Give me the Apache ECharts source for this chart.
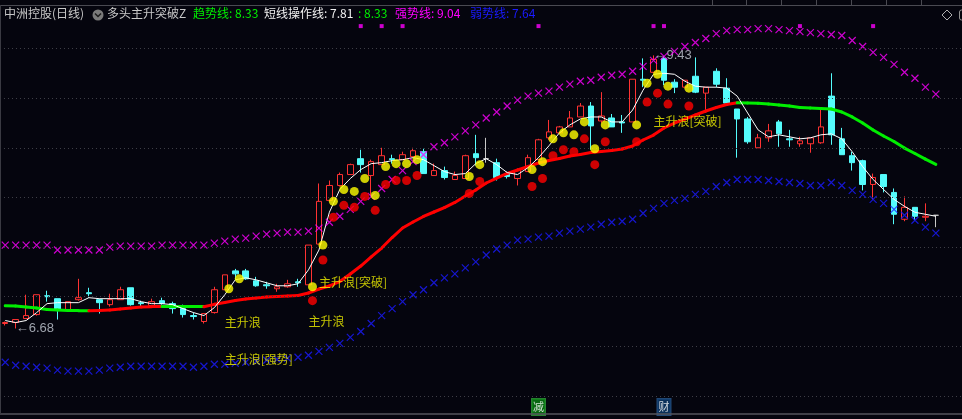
<!DOCTYPE html>
<html><head><meta charset="utf-8">
<script src="https://cdn.jsdelivr.net/npm/echarts/dist/echarts.min.js"></script>
<style>html,body{margin:0;padding:0;background:#05050e;overflow:hidden}#c{width:962px;height:419px}</style>
</head><body><div id="c"></div>
<script>
// ---- data (price units) ----
const categories = Array.from({length: 92}, (_, i) => (i < 90 ? 'D' + (i + 1) : ''));
const open = [6.73,6.74,6.78,6.82,7.01,6.98,6.86,6.97,7.04,6.97, 6.92,6.97,7.09,6.94,6.91,6.96,6.93,6.88,6.81,6.75, 6.84,7.07,7.26,7.26,7.16,7.12,7.08,7.10,7.15,7.12, 7.53,7.97,8.12,8.23,8.39,8.22,8.33,8.39,8.38,8.41, 8.46,8.22,8.27,8.18,8.19,8.44,8.39,8.35,8.24,8.19, 8.26,8.38,8.60,8.65,8.71,8.81,8.92,8.77,8.80,8.76, 8.76,9.19,9.26,9.40,9.16,9.11,9.22,9.05,9.27,9.10, 8.89,8.79,8.50,8.60,8.76,8.59,8.54,8.54,8.55,9.02, 8.59,8.42,8.37,8.13,8.23,8.05,7.78,7.90,7.80,7.82];
const close = [6.74,6.77,6.81,7.02,7.00,6.87,6.95,6.99,7.03,6.94, 6.97,7.07,6.92,6.93,6.95,6.93,6.88,6.82,6.80,6.83, 7.07,7.22,7.23,7.18,7.11,7.11,7.10,7.13,7.14,7.52, 7.96,8.12,8.23,8.33,8.33,8.36,8.42,8.38,8.43,8.47, 8.24,8.27,8.20,8.22,8.42,8.40,8.39,8.20,8.21,8.27, 8.40,8.58,8.66,8.71,8.80,8.92,8.72,8.82,8.71,8.75, 9.19,9.18,9.39,9.18,9.11,9.18,9.06,9.11,9.14,8.95, 8.79,8.56,8.60,8.67,8.64,8.58,8.57,8.60,8.71,8.63, 8.43,8.35,8.13,8.20,8.11,7.83,7.90,7.81,7.81,7.82];
const high = [6.75,6.77,7.02,7.02,7.06,6.98,6.95,7.18,7.09,6.98, 7.03,7.10,7.09,6.96,6.98,6.99,6.95,6.92,6.84,6.83, 7.10,7.22,7.28,7.28,7.20,7.15,7.13,7.17,7.18,7.52, 8.14,8.17,8.25,8.34,8.48,8.38,8.50,8.43,8.46,8.50, 8.49,8.34,8.31,8.26,8.43,8.63,8.60,8.39,8.26,8.29, 8.43,8.59,8.78,8.72,8.87,8.95,8.96,9.06,8.84,8.83, 9.19,9.40,9.43,9.42,9.19,9.18,9.41,9.11,9.30,9.20, 8.89,8.81,8.64,8.74,8.78,8.68,8.61,8.60,8.90,9.25, 8.70,8.46,8.38,8.24,8.23,8.09,8.01,7.90,7.94,7.82];
const low = [6.71,6.68,6.78,6.81,6.95,6.77,6.85,6.96,6.99,6.83, 6.90,6.97,6.91,6.89,6.90,6.92,6.83,6.79,6.77,6.73, 6.83,7.07,7.17,7.17,7.10,7.08,7.05,7.09,7.10,7.12, 7.53,7.97,8.11,8.23,8.25,8.02,8.33,8.34,8.38,8.41, 8.24,8.22,8.18,8.18,8.19,8.32,8.35,8.17,8.19,8.12, 8.26,8.38,8.58,8.65,8.71,8.81,8.48,8.75,8.71,8.65, 8.76,9.11,9.26,9.13,9.05,9.11,9.05,8.85,9.11,8.95, 8.40,8.54,8.50,8.56,8.51,8.51,8.51,8.45,8.54,8.53, 8.43,8.27,8.07,7.98,8.05,7.73,7.76,7.77,7.76,7.70];
// 短线操作线 (white)
const shortLine = [6.76,6.74,6.76,6.84,6.93,6.94,6.94,6.94,6.99,6.98, 6.98,6.98,6.98,6.95,6.93,6.93,6.92,6.88,6.84,6.81, 6.89,7.02,7.17,7.19,7.17,7.14,7.11,7.11,7.13,7.27, 7.47,7.85,8.08,8.19,8.28,8.34,8.35,8.37,8.38,8.40, 8.38,8.32,8.26,8.23,8.24,8.34,8.39,8.33,8.25,8.23, 8.30,8.40,8.52,8.65,8.73,8.79,8.81,8.81,8.76,8.76, 8.88,9.08,9.24,9.25,9.24,9.17,9.12,9.11,9.11,9.10, 9.02,8.85,8.68,8.61,8.63,8.61,8.59,8.60,8.63,8.64, 8.59,8.46,8.31,8.18,8.08,7.98,7.91,7.85,7.83,7.81];
// 趋势线 (red rising / green otherwise)
const trendLine = [6.909,6.906,6.896,6.886,6.871,6.866,6.861,6.859,6.858,6.861, 6.866,6.876,6.886,6.896,6.899,6.903,6.902,6.901,6.900,6.899, 6.923,6.942,6.962,6.977,6.987,6.997,7.002,7.007,7.012,7.037, 7.077,7.108,7.153,7.229,7.309,7.400,7.490,7.596,7.692,7.752, 7.808,7.853,7.898,7.949,8.014,8.074,8.145,8.195,8.241,8.276, 8.311,8.346,8.372,8.392,8.417,8.432,8.452,8.462,8.472,8.487, 8.518,8.578,8.628,8.699,8.749,8.789,8.830,8.870,8.905,8.935, 8.954,8.951,8.948,8.940,8.930,8.920,8.905,8.900,8.895,8.890, 8.860,8.810,8.749,8.679,8.618,8.563,8.497,8.442,8.385,8.332];
// 强势线 (magenta x)
const strongLine = [7.52,7.52,7.52,7.52,7.52,7.47,7.47,7.47,7.47,7.47, 7.50,7.51,7.51,7.51,7.51,7.52,7.52,7.52,7.52,7.52, 7.54,7.56,7.58,7.59,7.61,7.63,7.64,7.65,7.65,7.66, 7.69,7.75,7.81,7.88,7.96,8.01,8.09,8.18,8.27,8.36, 8.43,8.51,8.55,8.61,8.67,8.73,8.80,8.86,8.92,8.98, 9.02,9.05,9.07,9.11,9.14,9.17,9.18,9.21,9.23,9.24, 9.27,9.32,9.38,9.42,9.47,9.52,9.56,9.60,9.65,9.68, 9.69,9.69,9.70,9.70,9.69,9.68,9.67,9.66,9.65,9.64, 9.63,9.58,9.52,9.46,9.41,9.34,9.26,9.20,9.11,9.04];
// 弱势线 (blue x)
const weakLine = [6.34,6.31,6.30,6.29,6.28,6.26,6.25,6.25,6.25,6.26, 6.28,6.29,6.30,6.30,6.30,6.30,6.30,6.30,6.29,6.30, 6.32,6.32,6.33,6.34,6.35,6.36,6.37,6.38,6.39,6.41, 6.45,6.49,6.53,6.59,6.65,6.73,6.81,6.88,6.95,7.02, 7.07,7.14,7.19,7.23,7.29,7.35,7.42,7.48,7.52,7.57, 7.58,7.60,7.61,7.64,7.66,7.68,7.70,7.73,7.75,7.76, 7.78,7.84,7.89,7.94,7.97,7.99,8.03,8.06,8.11,8.15, 8.18,8.18,8.18,8.17,8.16,8.15,8.14,8.12,8.12,8.15, 8.12,8.07,8.03,7.98,7.94,7.88,7.82,7.77,7.70,7.64];
const yellowDots = [[21,7.08],[22,7.18],[29,7.10],[30,7.52],[31,7.96],[32,8.08],[33,8.06],[34,8.19],[35,8.02],[36,8.31],[37,8.34],[38,8.34],[39,8.38],[44,8.21],[45,8.33],[50,8.28],[51,8.36],[52,8.59],[53,8.65],[54,8.63],[55,8.76],[56,8.49],[57,8.73],[60,8.73],[61,9.15],[62,9.24],[63,9.12],[65,9.10]];
const redDots = [[29,6.96],[30,7.37],[31,7.80],[32,7.92],[33,7.90],[34,8.01],[35,7.87],[36,8.13],[37,8.17],[38,8.17],[39,8.22],[44,8.04],[45,8.16],[50,8.11],[51,8.19],[52,8.42],[53,8.48],[54,8.46],[55,8.59],[56,8.33],[57,8.56],[60,8.56],[61,8.96],[62,9.05],[63,8.94],[65,8.92]];
const signalLabels = [[21,6.37,'主升浪[强势]'],[21,6.74,'主升浪'],[29,6.75,'主升浪'],[30,7.14,'主升浪[突破]'],[62,8.77,'主升浪[突破]']];
const topMarkIdx = [34,36,38,51,62,63,76,83];
const topMarkLevel = 9.725;
const badges = [[51,'减'],[63,'财']];
const badgeLevel = 5.89;
const gridLevels = [6.0,6.5,7.0,7.5,8.0,8.5,9.0,9.5];

// ---- build ----
const n = open.length;
const candles = open.map((o, i) => [o, close[i], low[i], high[i]]);
const segs = [];
for (let i = 1; i < n; i++) {
  const up = trendLine[i] > trendLine[i - 1];
  segs.push({coords: [[i - 1, trendLine[i - 1]], [i, trendLine[i]]], lineStyle: {color: up ? '#ff0000' : '#00ee00'}});
}
let minI = 0, maxI = 0;
for (let i = 0; i < n; i++) { if (low[i] < low[minI]) minI = i; if (high[i] > high[maxI]) maxI = i; }
const xPath = 'path://M0,0L10,10M10,0L0,10';
const FONT = "'Noto Sans CJK SC', 'Noto Sans', sans-serif";
const last = a => a[a.length - 1].toFixed(2);

const chart = echarts.init(document.getElementById('c'), null, {renderer: 'canvas'});
const T = (x, text, color) => ({type: 'text', left: x, top: 7, z: 100, style: {text, fill: color, font: '12px ' + FONT}});
chart.setOption({
  backgroundColor: '#05050e',
  animation: false,
  grid: {left: 0, top: 23.625, width: 964, height: 392.235},
  xAxis: {type: 'category', data: categories, show: false, boundaryGap: true},
  yAxis: {type: 'value', min: 5.8, max: 9.75, show: false, splitLine: {show: false}},
  series: [
    {type: 'candlestick', data: candles, barWidth: 6, z: 2,
     itemStyle: {color: 'rgba(0,0,0,0)', color0: '#54fcfc', borderColor: '#ff3232', borderColor0: '#54fcfc', borderColorDoji: '#c8c8c8', borderWidth: 1},
     markLine: {silent: true, symbol: ['none', 'none'], label: {show: false}, animation: false,
       lineStyle: {color: '#3e3e46', type: [1, 3], width: 1},
       data: gridLevels.map(v => ({yAxis: v}))}},
    {type: 'lines', coordinateSystem: 'cartesian2d', z: 3, data: segs, lineStyle: {width: 3, opacity: 1, cap: 'round'}, silent: true},
    {type: 'line', data: shortLine, symbol: 'none', z: 4, lineStyle: {color: '#ffffff', width: 1}, silent: true},
    {type: 'scatter', data: strongLine.map((v, i) => [i, v]), symbol: xPath, symbolSize: 7, z: 4,
     itemStyle: {color: 'rgba(0,0,0,0)', borderColor: '#ff00ff', borderWidth: 1.2}, silent: true},
    {type: 'scatter', data: weakLine.map((v, i) => [i, v]), symbol: xPath, symbolSize: 7, z: 4,
     itemStyle: {color: 'rgba(0,0,0,0)', borderColor: '#1a1aff', borderWidth: 1.2}, silent: true},
    {type: 'scatter', data: yellowDots, symbol: 'circle', symbolSize: 9, symbolOffset: [4, 0], z: 6, itemStyle: {color: '#ffff00'}, silent: true},
    {type: 'scatter', data: redDots, symbol: 'circle', symbolSize: 9, symbolOffset: [4, 0], z: 6, itemStyle: {color: '#ff0000'}, silent: true},
    {type: 'scatter', data: topMarkIdx.map(i => [i, topMarkLevel]), symbol: 'rect', symbolSize: 4, z: 6, itemStyle: {color: '#ff00ff'}, silent: true},
    {type: 'scatter', symbolSize: 0, z: 7, silent: true,
     data: signalLabels.map(d => ({value: [d[0], d[1]], name: d[2]})),
     label: {show: true, position: 'right', distance: 0, formatter: p => p.name, color: '#f2f200', fontSize: 12, fontFamily: FONT}},
    {type: 'scatter', symbolSize: 0, z: 1, silent: true,
     data: [{value: [minI, low[minI]], name: '←' + low[minI].toFixed(2)}, {value: [maxI, high[maxI]], name: '←' + high[maxI].toFixed(2)}],
     label: {show: true, position: 'right', distance: 0, formatter: p => p.name, color: '#c4cad4', fontSize: 13, fontFamily: "'Liberation Sans', sans-serif"}},
    {type: 'scatter', symbolSize: 0, z: 7, silent: true,
     data: badges.map(b => ({value: [b[0], badgeLevel], name: b[1],
       label: {backgroundColor: b[1] === '减' ? '#0a7f14' : '#0d3b6e', borderColor: b[1] === '减' ? '#2fa03a' : '#2a5a90', borderWidth: 1}})),
     label: {show: true, position: 'inside', formatter: p => p.name, color: '#ffffff', fontSize: 11, fontFamily: FONT, padding: [3, 1, 2, 1]}}
  ],
  graphic: [
    {type: 'line', shape: {x1: 0, y1: 5.5, x2: 962, y2: 5.5}, style: {stroke: '#4a4a52', lineWidth: 1}, z: 100},
    {type: 'line', shape: {x1: 0, y1: 414, x2: 962, y2: 414}, style: {stroke: '#55555c', lineWidth: 1.5}, z: 100},
    {type: 'line', shape: {x1: 0.5, y1: 5, x2: 0.5, y2: 414}, style: {stroke: '#3a3a42', lineWidth: 1}, z: 100},
    ...[712, 746, 781, 816, 851, 886, 921].map(x => ({type: 'line', shape: {x1: x + 0.5, y1: 0, x2: x + 0.5, y2: 5}, style: {stroke: '#4a4a52', lineWidth: 1}, z: 100})),
    T(4, '中洲控股(日线)', '#c8c8c8'),
    {type: 'circle', shape: {cx: 98, cy: 15, r: 5.5}, style: {fill: '#7a7a7a'}, z: 100},
    {type: 'polyline', shape: {points: [[95, 13.5], [98, 16.5], [101, 13.5]]}, style: {stroke: '#1c1c1c', lineWidth: 1.5, fill: null}, z: 101},
    T(107, '多头主升突破Z', '#c8c8c8'),
    T(193, '趋势线: ' + last(trendLine), '#00ee00'),
    T(264, '短线操作线: ' + last(shortLine), '#f0f0f0'),
    T(358, ': ' + last(trendLine), '#00ee00'),
    T(395, '强势线: ' + last(strongLine), '#ff00ff'),
    T(470, '弱势线: ' + last(weakLine), '#1a1aff'),
    {type: 'polygon', shape: {points: [[947, 10], [952, 15], [947, 20], [942, 15]]}, style: {stroke: '#b0b0b0', fill: null, lineWidth: 1}, z: 100},
    {type: 'rect', shape: {x: 959.5, y: 10, width: 8, height: 10, r: 2}, style: {stroke: '#909090', fill: null, lineWidth: 1}, z: 100}
  ]
});
</script></body></html>
